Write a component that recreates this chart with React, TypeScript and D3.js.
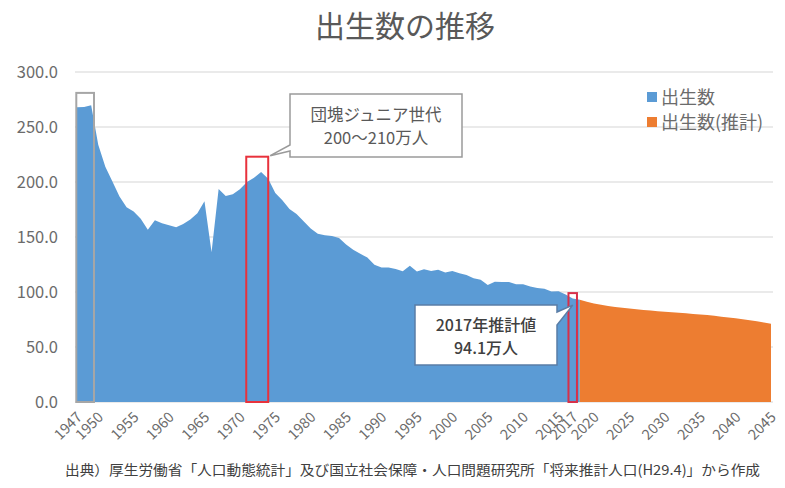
import React from "react";
import * as d3 from "d3";

const actualYears: number[] = d3.range(1947, 2018);
const actualBirths: number[] = [
  267.9, 268.2, 269.7, 233.8, 213.8, 200.5, 186.8, 177.0, 173.1, 166.5,
  156.7, 165.3, 162.6, 160.6, 158.9, 161.9, 166.0, 171.7, 182.4, 136.1,
  193.6, 187.2, 188.9, 193.4, 200.1, 203.9, 209.2, 203.0, 190.1, 183.3,
  175.5, 170.9, 164.3, 157.7, 152.9, 151.5, 150.9, 149.0, 143.2, 138.3,
  134.7, 131.4, 124.7, 122.2, 122.3, 120.9, 118.8, 123.8, 118.7, 120.7,
  119.2, 120.3, 117.8, 119.1, 117.1, 115.4, 112.4, 111.1, 106.3, 109.3,
  109.0, 109.1, 107.0, 107.1, 105.1, 103.7, 103.0, 100.4, 100.6, 97.7,
  94.1,
];
const projYears: number[] = d3.range(2018, 2046);
const projBirths: number[] = [
  93.0, 91.2, 89.6, 88.3, 87.2, 86.3, 85.6, 84.9, 84.3, 83.7,
  83.2, 82.6, 82.1, 81.6, 81.1, 80.6, 80.1, 79.6, 79.0, 78.3,
  77.6, 76.9, 76.1, 75.3, 74.4, 73.4, 72.3, 71.2,
];
const yTicks: number[] = [0, 50, 100, 150, 200, 250, 300];
const xTickYears: number[] = [
  1947, 1950, 1955, 1960, 1965, 1970, 1975, 1980, 1985, 1990, 1995, 2000,
  2005, 2010, 2015, 2017, 2020, 2025, 2030, 2035, 2040, 2045,
];
const seriesNames: string[] = ["出生数", "出生数(推計)"];
const title = "出生数の推移";
const footnote =
  "出典）厚生労働省「人口動態統計」及び国立社会保障・人口問題研究所「将来推計人口(H29.4)」から作成";

// highlighted ranges: [startYear, endYear, topValue]
const boxBaby: number[] = [1946.9, 1949.4, 281];
const boxJunior: number[] = [1970.9, 1974.0, 223];
const box2017: number[] = [2016.4, 2017.6, 99];

const W = 785;
const H = 488;
const FONT = "'Noto Sans CJK JP', 'Noto Sans', sans-serif";

export default function App() {
  const x = d3.scaleLinear().domain([1947, 2045]).range([77, 771]);
  const y = d3.scaleLinear().domain([0, 300]).range([402, 72]);

  // blue area joins the first projected point so no gap appears at 2017-2018
  const blueData: [number, number][] = actualYears.map((yr, i) => [yr, actualBirths[i]]);
  blueData.push([projYears[0], projBirths[0]]);
  const orangeData: [number, number][] = projYears.map((yr, i) => [yr, projBirths[i]]);

  const area = d3
    .area<[number, number]>()
    .x((d) => x(d[0]))
    .y0(y(0))
    .y1((d) => y(d[1]));

  const boxRect = (b: number[], stroke: string, sw: number) => (
    <rect
      x={x(b[0])}
      y={y(b[2])}
      width={x(b[1]) - x(b[0])}
      height={y(0) - y(b[2])}
      fill="none"
      stroke={stroke}
      strokeWidth={sw}
    />
  );

  const c1 = { x0: 290, y0: 94, x1: 462, y1: 157 };
  const tip1x = x(boxJunior[1]) + 2;
  const tip1y = y(boxJunior[2]) - 1;
  const c1Path = `M${c1.x0},${c1.y0} H${c1.x1} V${c1.y1} H${c1.x0} V${c1.y1 - 6} L${tip1x},${tip1y} L${c1.x0},${c1.y1 - 12} Z`;

  const c2 = { x0: 415, y0: 305, x1: 557, y1: 365 };
  const tip2x = x(2017);
  const tip2y = y(box2017[2]) + 12;
  const c2Path = `M${c2.x0},${c2.y0} H${c2.x1} V${c2.y0 + 7} L${tip2x},${tip2y} L${c2.x1},${c2.y0 + 20} V${c2.y1} H${c2.x0} Z`;

  return (
    <svg
      width={W}
      height={H}
      style={{ position: "absolute", left: 0, top: 0, background: "#fff" }}
      fontFamily={FONT}
    >
      <rect x={0} y={0} width={W} height={H} fill="#fff" />
      <text x={405} y={37} textAnchor="middle" fontSize={30} fill="#595959">
        {title}
      </text>

      {yTicks.map((t) => (
        <line
          key={t}
          x1={x(1947) - 2}
          x2={x(2045) + 2}
          y1={y(t)}
          y2={y(t)}
          stroke="#e3e3e3"
          strokeWidth={1.3}
        />
      ))}
      {yTicks.map((t) => (
        <text
          key={"yl" + t}
          x={58}
          y={y(t) + 6}
          textAnchor="end"
          fontSize={16.5}
          fill="#6b6b6b"
        >
          {t.toFixed(1)}
        </text>
      ))}

      <path d={area(blueData) || ""} fill="#5b9bd5" />
      <path d={area(orangeData) || ""} fill="#ed7d31" />

      {boxRect(boxBaby, "#a6a6a6", 2)}
      {boxRect(boxJunior, "#e8323c", 2)}
      {boxRect(box2017, "#d6304a", 2)}

      {xTickYears.map((yr) => (
        <text
          key={"x" + yr}
          transform={`translate(${x(yr) + 6},${418}) rotate(-45)`}
          textAnchor="end"
          fontSize={14.5}
          fill="#6b6b6b"
        >
          {yr}
        </text>
      ))}

      <path d={c1Path} fill="#fff" stroke="#9a9a9a" strokeWidth={1.5} />
      <text x={376} y={121} textAnchor="middle" fontSize={16.5} fill="#595959">
        団塊ジュニア世代
      </text>
      <text x={376} y={144} textAnchor="middle" fontSize={16.5} fill="#595959">
        200～210万人
      </text>

      <path d={c2Path} fill="#fff" stroke="#5a7da6" strokeWidth={1.5} />
      <text x={486} y={331} textAnchor="middle" fontSize={16} fill="#404040" fontWeight={500}>
        2017年推計値
      </text>
      <text x={486} y={354} textAnchor="middle" fontSize={16} fill="#404040" fontWeight={500}>
        94.1万人
      </text>

      <rect x={647} y={92} width={10} height={10} fill="#5b9bd5" />
      <text x={661} y={103.5} fontSize={18} fill="#6b6b6b">
        {seriesNames[0]}
      </text>
      <rect x={647} y={117} width={10} height={10} fill="#ed7d31" />
      <text x={661} y={128.5} fontSize={18} fill="#6b6b6b">
        {seriesNames[1]}
      </text>

      <text x={65} y={475} fontSize={14} fill="#404040" textLength={695} lengthAdjust="spacingAndGlyphs">
        {footnote}
      </text>
    </svg>
  );
}
